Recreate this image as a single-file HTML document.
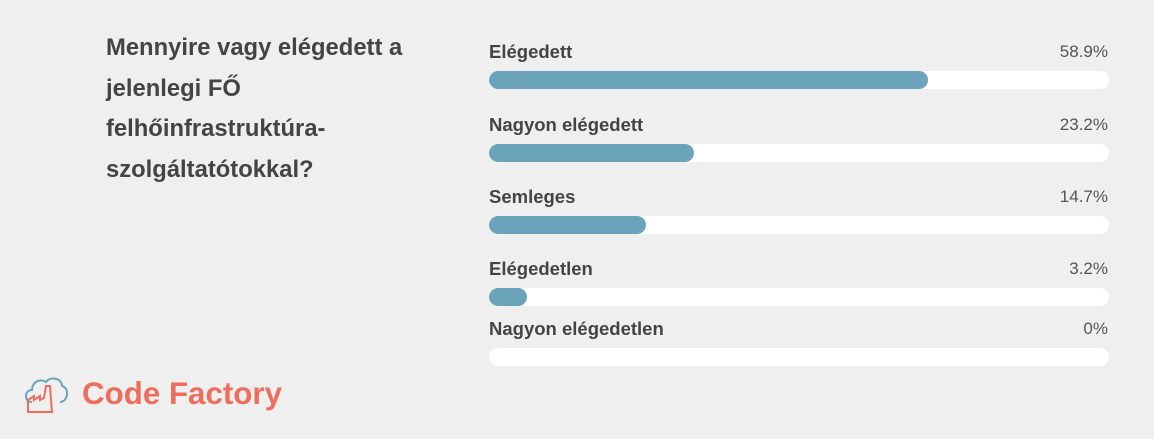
<!DOCTYPE html>
<html><head><meta charset="utf-8"><style>
body{margin:0;width:1154px;height:439px;background:#efefef;font-family:"Liberation Sans",sans-serif;position:relative;overflow:hidden;color:#444}
.t{position:absolute;left:106px;top:28px;width:330px;font-size:23.8px;font-weight:bold;line-height:40.5px;color:#444}
.l{position:absolute;left:489px;font-size:18.5px;font-weight:bold;color:#444;line-height:20px}
.p{position:absolute;right:46px;font-size:17px;color:#555;line-height:20px}
.tr{position:absolute;left:489px;width:620px;height:18px;background:#fff;border-radius:9px;overflow:hidden}
.b{height:18px;background:#6ba3bb;border-radius:9px}
.logo{position:absolute;left:82px;top:374px;font-size:31.3px;font-weight:bold;color:#ee6e5e;line-height:40px}
</style></head><body>
<div class="t">Mennyire vagy elégedett a jelenlegi FŐ felhőinfrastruktúra-szolgáltatótokkal?</div>

<div class="l" style="top:42px">Elégedett</div><div class="p" style="top:42px">58.9%</div>
<div class="tr" style="top:71px"><div class="b" style="width:439px"></div></div>

<div class="l" style="top:115px">Nagyon elégedett</div><div class="p" style="top:115px">23.2%</div>
<div class="tr" style="top:144px"><div class="b" style="width:205px"></div></div>

<div class="l" style="top:187px">Semleges</div><div class="p" style="top:187px">14.7%</div>
<div class="tr" style="top:216px"><div class="b" style="width:157px"></div></div>

<div class="l" style="top:259px">Elégedetlen</div><div class="p" style="top:259px">3.2%</div>
<div class="tr" style="top:288px"><div class="b" style="width:38px"></div></div>

<div class="l" style="top:319px">Nagyon elégedetlen</div><div class="p" style="top:319px">0%</div>
<div class="tr" style="top:348px"></div>

<svg style="position:absolute;left:22px;top:372px" width="48" height="44" viewBox="0 0 48 44">
<path d="M10 30 C2 30 2 18 10 18 C10 10 18 6 24 10 C28 4 40 6 40 14 C48 16 46 30 38 30" fill="none" stroke="#6ba3bb" stroke-width="2"/>
<path d="M6 40 L6 28 L12 24 L12 28 L18 24 L18 28 L22 26 L24 14 L28 14 L30 40 Z" fill="none" stroke="#ee6e5e" stroke-width="2"/>
</svg>
<div class="logo">Code Factory</div>
</body></html>
